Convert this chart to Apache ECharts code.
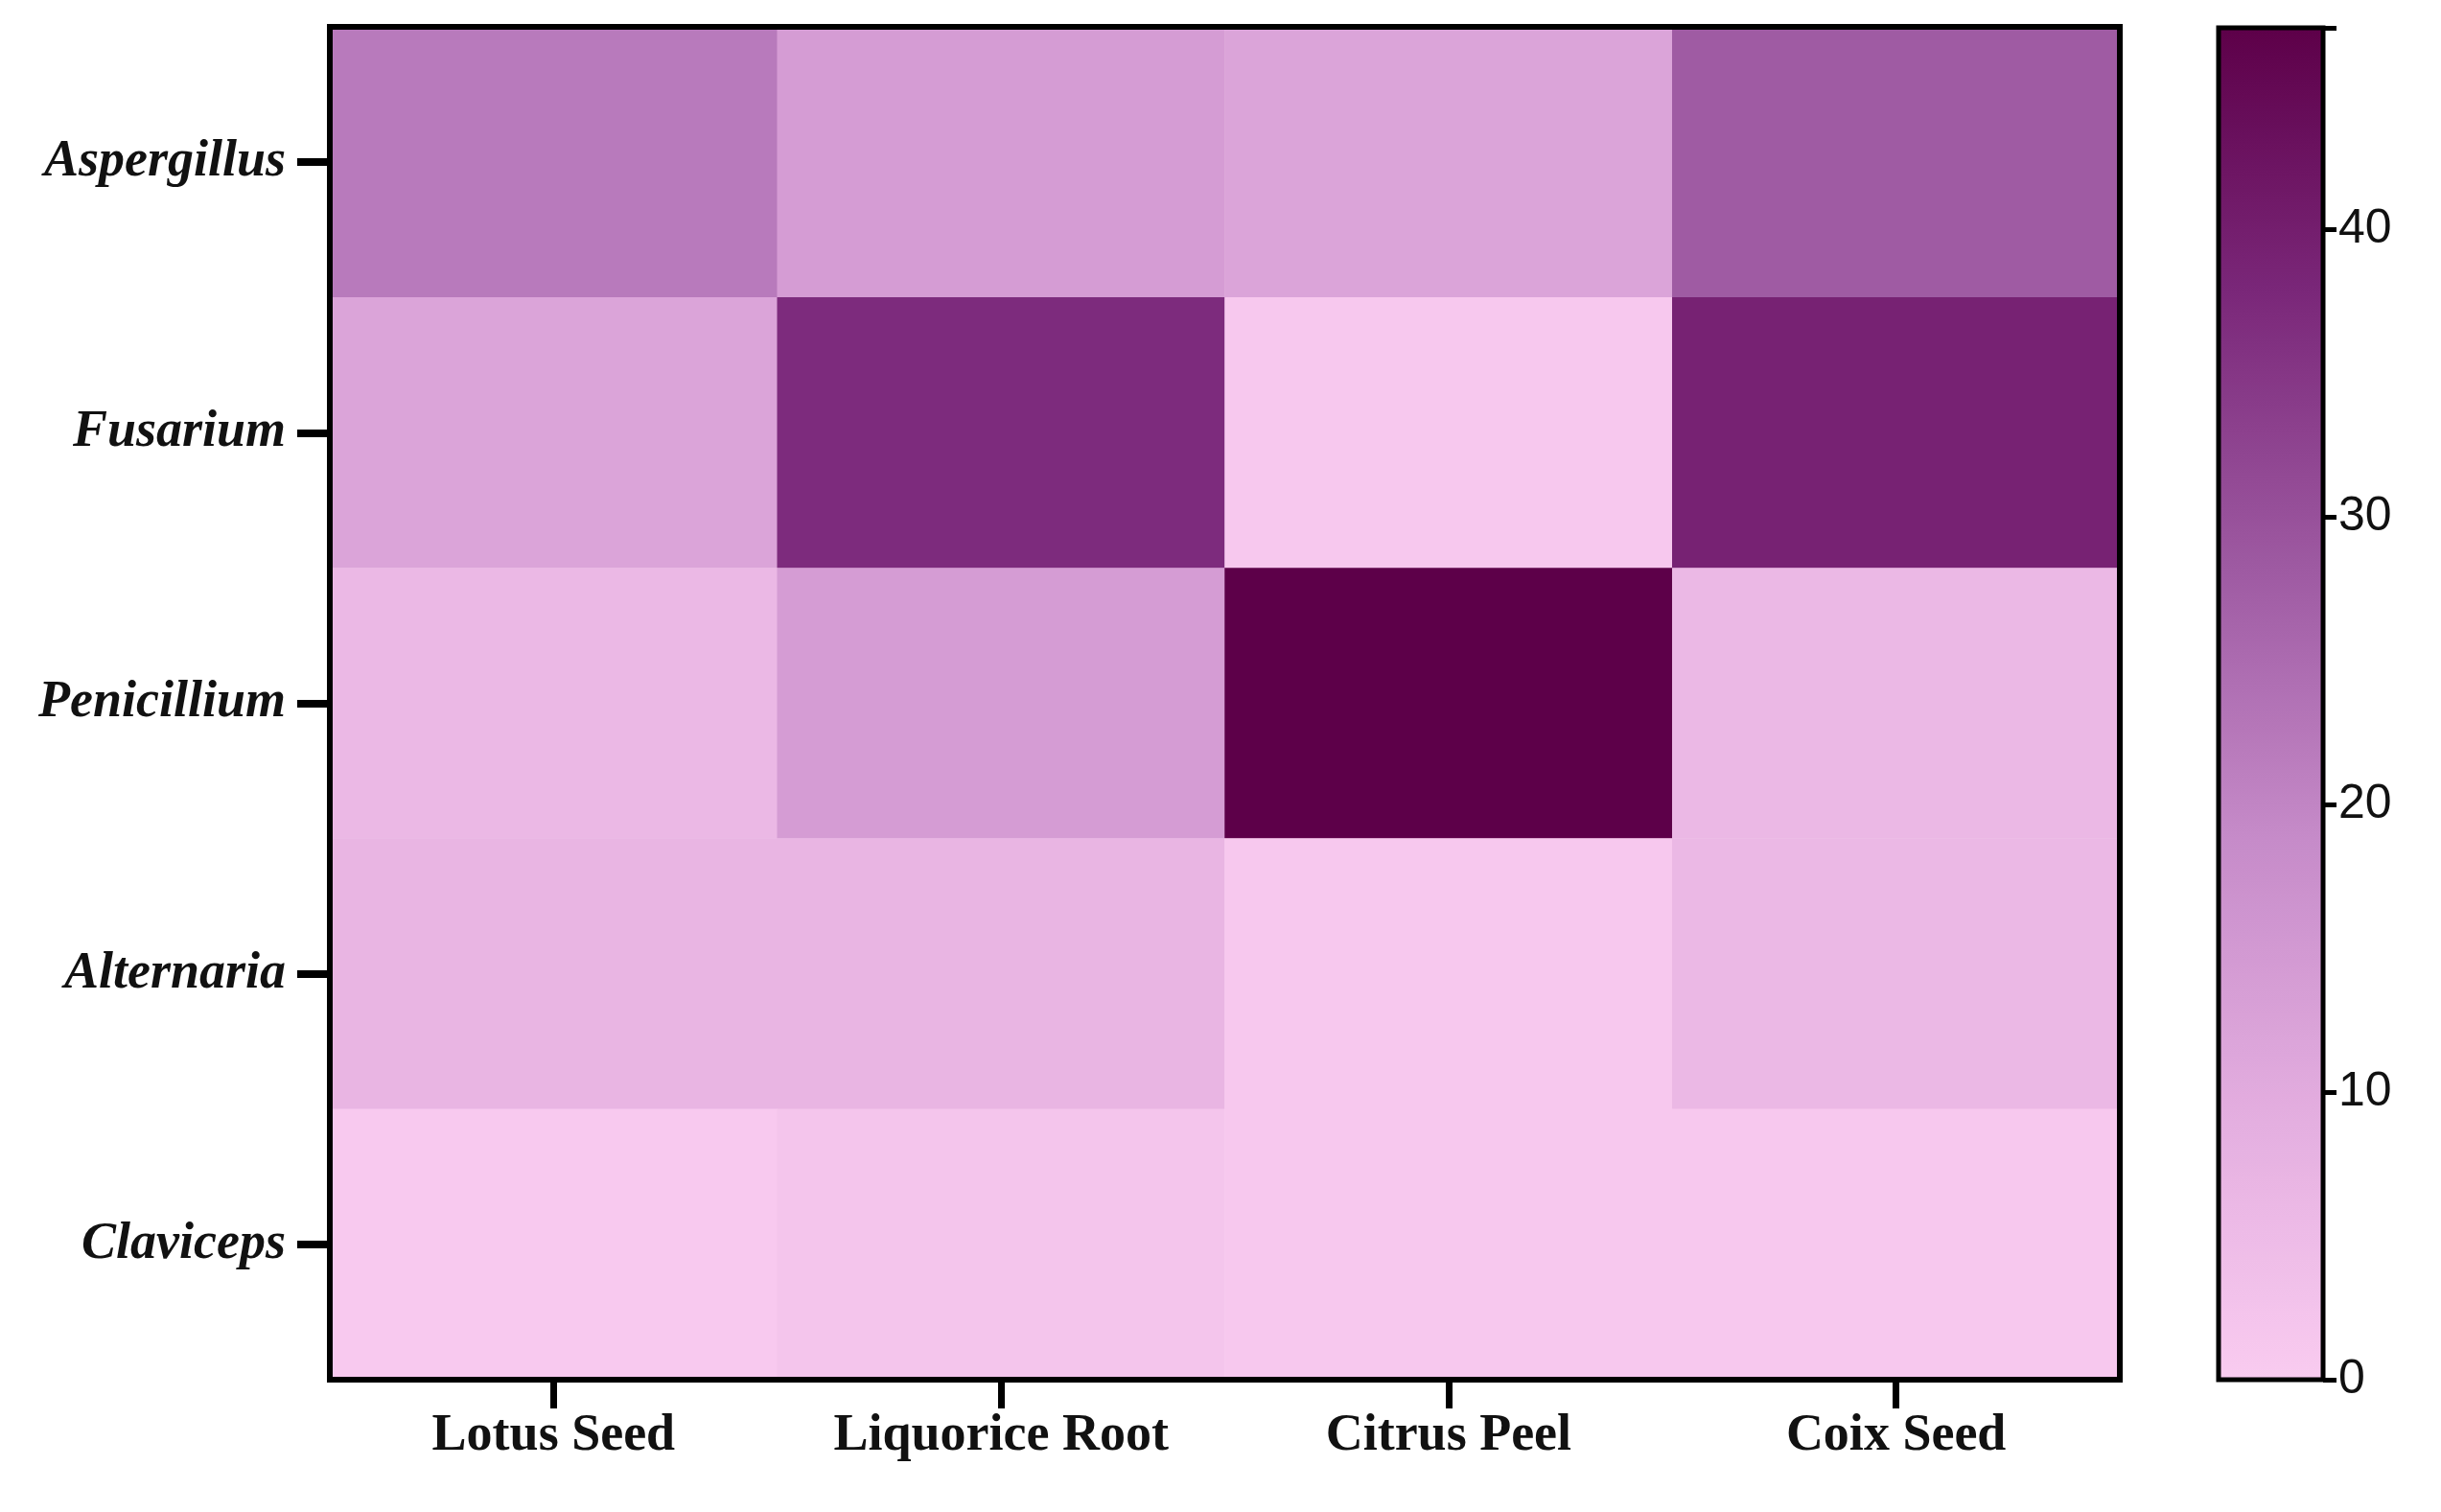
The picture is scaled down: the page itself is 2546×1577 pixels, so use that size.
<!DOCTYPE html>
<html>
<head>
<meta charset="utf-8">
<script src="https://cdn.jsdelivr.net/npm/echarts@6/dist/echarts.min.js"></script>
<style>html,body{margin:0;padding:0;background:#fff}#main{width:2546px;height:1577px}</style>
</head>
<body>
<div id="main"></div>
<script>
var herbs = ['Lotus Seed', 'Liquorice Root', 'Citrus Peel', 'Coix Seed'];
var fungi = ['Aspergillus', 'Fusarium', 'Penicillium', 'Alternaria', 'Claviceps'];
// rows follow fungi, columns follow herbs
var aspergillus = [22, 14, 12, 28];
var fusarium = [12, 37, 1, 39];
var penicillium = [6, 14, 47, 6];
var alternaria = [7, 7, 1, 6];
var claviceps = [0.5, 2, 1, 1];
var barTicks = [0, 10, 20, 30, 40];

var rows = [aspergillus, fusarium, penicillium, alternaria, claviceps];
var cells = [];
rows.forEach(function (r, j) {
    r.forEach(function (v, i) { cells.push([i, j, v]); });
});

var font = '"Liberation Serif", "DejaVu Serif", serif';
var chart = echarts.init(document.getElementById('main'));
chart.setOption({
    backgroundColor: '#fff',
    grid: [
        {left: 344, top: 28, width: 1867, height: 1411, show: true, borderColor: '#000', borderWidth: 6, z: 10, backgroundColor: 'transparent'},
        {left: 2314, top: 29, width: 109, height: 1410, show: true, borderColor: '#000', borderWidth: 5, z: 10, backgroundColor: 'transparent'}
    ],
    xAxis: [
        {type: 'category', data: herbs, gridIndex: 0, position: 'bottom',
         axisLine: {show: false},
         axisTick: {show: true, alignWithLabel: true, length: 30, lineStyle: {width: 7, color: '#000'}},
         axisLabel: {margin: 32, fontFamily: font, fontWeight: 'bold', fontSize: 54, color: '#111'},
         splitLine: {show: false}},
        {type: 'value', gridIndex: 1, show: false}
    ],
    yAxis: [
        {type: 'category', data: fungi, inverse: true, gridIndex: 0,
         axisLine: {show: false},
         axisTick: {show: true, alignWithLabel: true, length: 34, lineStyle: {width: 8, color: '#000'}},
         axisLabel: {margin: 46, fontFamily: font, fontWeight: 'bold', fontStyle: 'italic', fontSize: 54, color: '#111'},
         splitLine: {show: false}},
        {type: 'value', gridIndex: 1, position: 'right', min: 0, max: 47, interval: 10,
         axisLine: {show: false, onZero: false},
         axisTick: {show: true, inside: false, length: 14, lineStyle: {width: 5, color: '#000'}},
         axisLabel: {margin: 16, fontFamily: '"Liberation Sans", Arial, sans-serif', fontSize: 50, color: '#111',
             formatter: function (v) { return barTicks.indexOf(v) >= 0 ? v : ''; }},
         splitLine: {show: false}}
    ],
    visualMap: {
        type: 'continuous', min: 0, max: 47, seriesIndex: 0, calculable: false,
        orient: 'vertical', left: 2314, top: 29, itemWidth: 109, itemHeight: 1410,
        padding: 0, text: ['', ''], showLabel: false,
        inRange: {color: ['#f9cbf0', '#e3addf', '#c68bc9', '#9e5aa2', '#7b287a', '#5d0049']}
    },
    series: [
        {type: 'heatmap', xAxisIndex: 0, yAxisIndex: 0, data: cells, label: {show: false}},
        {type: 'scatter', xAxisIndex: 1, yAxisIndex: 1, data: [], silent: true}
    ]
});
</script>
</body>
</html>
